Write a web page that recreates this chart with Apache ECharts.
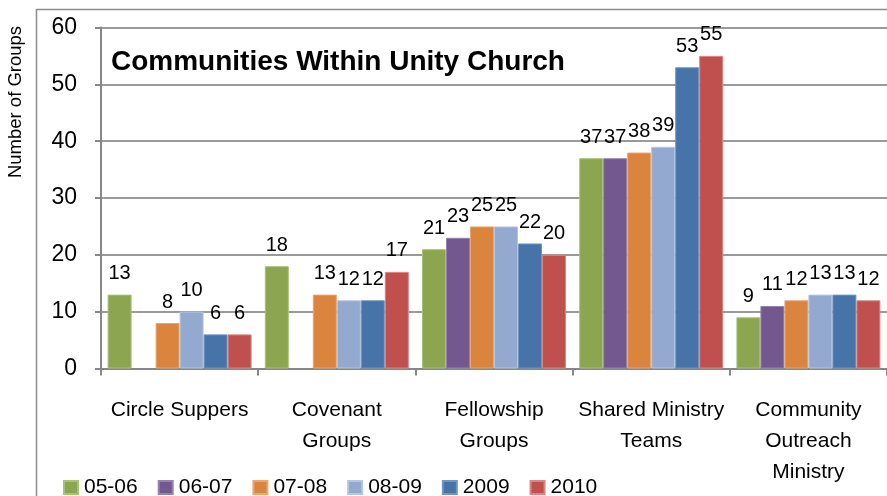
<!DOCTYPE html>
<html>
<head>
<meta charset="utf-8">
<script src="https://cdn.jsdelivr.net/npm/echarts@6/dist/echarts.min.js"></script>
<style>
html,body{margin:0;padding:0;background:#fff;}
#chart{width:887px;height:496px;}
</style>
</head>
<body>
<div id="chart"></div>
<script>
var categories = ['Circle Suppers', 'Covenant\nGroups', 'Fellowship\nGroups', 'Shared Ministry\nTeams', 'Community\nOutreach\nMinistry'];
var seriesNames = ['05-06', '06-07', '07-08', '08-09', '2009', '2010'];
var v0506 = [13, 18, 21, 37, 9];
var v0607 = [null, null, 23, 37, 11];
var v0708 = [8, 13, 25, 38, 12];
var v0809 = [10, 12, 25, 39, 13];
var v2009 = [6, 12, 22, 53, 13];
var v2010 = [6, 17, 20, 55, 12];
var yTicks = [0, 10, 20, 30, 40, 50, 60];
var colors = ['#8BA64E', '#72588F', '#DB843D', '#93A9CF', '#4673A8', '#C0504D'];
var borders = ['#a9c27a', '#9583ad', '#eca66f', '#b5c6e2', '#7195c4', '#d98583'];

var FONT = '"Liberation Sans", Arial, sans-serif';
var values = [v0506, v0607, v0708, v0809, v2009, v2010];

var series = seriesNames.map(function (name, i) {
  return {
    name: name,
    type: 'bar',
    data: values[i],
    barWidth: 24,
    barGap: '0%',
    itemStyle: { color: colors[i], borderColor: borders[i], borderWidth: 1 },
    label: {
      show: true,
      position: 'top',
      distance: 11,
      color: '#000',
      fontFamily: FONT,
      fontSize: 20,
      lineHeight: 20
    }
  };
});

var chart = echarts.init(document.getElementById('chart'), null, { renderer: 'canvas' });
chart.setOption({
  animation: false,
  color: colors,
  graphic: [
    {
      type: 'rect',
      shape: { x: 36.5, y: 9.5, width: 1000, height: 1000 },
      style: { fill: 'none', stroke: '#8c8c8c', lineWidth: 1.5 },
      z: 0
    },
    {
      type: 'text',
      x: 111,
      y: 62,
      style: {
        text: 'Communities Within Unity Church',
        font: 'bold 28px ' + FONT,
        fill: '#000',
        textAlign: 'left',
        textVerticalAlign: 'middle'
      },
      z: 10
    },
    {
      type: 'text',
      x: 16,
      y: 102,
      rotation: Math.PI / 2,
      style: {
        text: 'Number of Groups',
        font: '18.5px ' + FONT,
        fill: '#000',
        textAlign: 'center',
        textVerticalAlign: 'middle'
      },
      z: 10
    }
  ],
  grid: { left: 101, right: -4, top: 27.5, bottom: 127.5, containLabel: false },
  legend: {
    data: seriesNames,
    left: 63,
    top: 477,
    padding: 0,
    itemWidth: 14,
    itemHeight: 13,
    itemGap: 20,
    icon: 'rect',
    textStyle: { fontFamily: FONT, fontSize: 21, color: '#000', padding: [0, 0, 0, 1] }
  },
  xAxis: {
    type: 'category',
    data: categories,
    axisLine: { show: true, lineStyle: { color: '#878787', width: 2 } },
    axisTick: { show: true, length: 7, lineStyle: { color: '#878787', width: 2 } },
    axisLabel: {
      interval: 0,
      margin: 26,
      fontFamily: FONT,
      fontSize: 21,
      lineHeight: 31,
      color: '#000'
    },
    splitLine: { show: false }
  },
  yAxis: {
    type: 'value',
    min: 0,
    max: 60,
    interval: 10,
    axisLine: { show: true, lineStyle: { color: '#878787', width: 2 } },
    axisTick: { show: true, length: 6, lineStyle: { color: '#878787', width: 2 } },
    axisLabel: {
      margin: 24,
      fontFamily: FONT,
      fontSize: 23,
      color: '#000',
      formatter: function (v) { return yTicks.indexOf(v) >= 0 ? String(v) : ''; }
    },
    splitLine: { show: true, lineStyle: { color: '#9a9a9a', width: 2 } }
  },
  series: series
});
</script>
</body>
</html>
